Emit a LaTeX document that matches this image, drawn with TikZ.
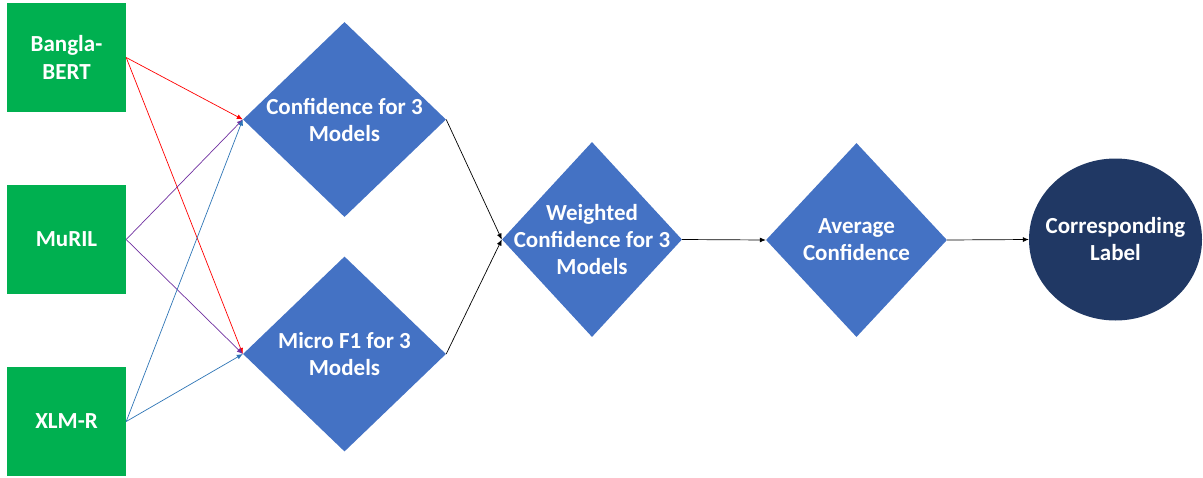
\documentclass[tikz,border=0pt]{standalone}
\usepackage{fontspec}
\setmainfont{Carlito}
\usetikzlibrary{shapes}
\usetikzlibrary{arrows.meta}

\definecolor{modelgreen}{HTML}{00B050}
\definecolor{stepblue}{HTML}{4472C4}
\definecolor{labelnavy}{HTML}{203864}
\definecolor{linkred}{HTML}{FF0000}
\definecolor{linkpurple}{HTML}{7030A0}
\definecolor{linkblue}{HTML}{2E75B6}

\begin{document}
\begin{tikzpicture}[x=1pt, y=-1pt,
  box/.style={rectangle, fill=modelgreen, text=white, align=center,
    minimum width=119pt, minimum height=109pt, font=\bfseries\fontsize{23}{28}\selectfont},
  decision/.style={diamond, fill=stepblue, text=white, align=center, inner sep=-25pt,
    font=\bfseries\fontsize{23}{27}\selectfont},
  result/.style={ellipse, fill=labelnavy, text=white, align=center, inner sep=-25pt,
    minimum width=173pt, minimum height=162pt, font=\bfseries\fontsize{23}{27}\selectfont},
  link/.style={-{Latex[length=6pt, width=5pt]}, line width=0.7pt}]
  \useasboundingbox (0,0) rectangle (1203,477);

  \node[box] (bangla) at (66.5,57.5) {Bangla-\\BERT};
  \node[box] (muril) at (66.5,239.5) {MuRIL};
  \node[box] (xlmr) at (66.5,421.5) {XLM-R};

  \node[decision, minimum width=203pt, minimum height=195pt] (conf) at (344.5,119.5) {Confidence for 3\\Models};
  \node[decision, minimum width=203pt, minimum height=195pt] (micro) at (344.5,354) {Micro F1 for 3\\Models};

  \path[link, linkred] (bangla.east) edge (conf.west);
  \path[link, linkred] (bangla.east) edge (micro.west);
  \path[link, linkpurple] (muril.east) edge (conf.west);
  \path[link, linkpurple] (muril.east) edge (micro.west);
  \path[link, linkblue] (xlmr.east) edge (conf.west);
  \path[link, linkblue] (xlmr.east) edge (micro.west);

  \node[decision, minimum width=180pt, minimum height=195pt] (weighted) at (592,239.5) {Weighted\\Confidence for 3\\Models};
  \node[decision, minimum width=181pt, minimum height=194pt] (average) at (856.5,240) {Average\\Confidence};
  \node[result] (label) at (1115.5,239.5) {Corresponding\\Label};

  \path[link] (conf.east) edge (weighted.west);
  \path[link] (micro.east) edge (weighted.west);
  \path[link] (weighted.east) edge (average.west);
  \path[link] (average.east) edge (label.west);
\end{tikzpicture}
\end{document}
